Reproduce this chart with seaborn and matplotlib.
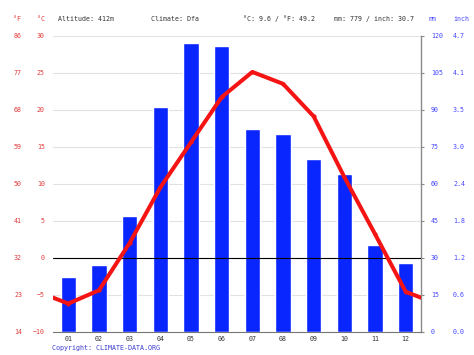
# Climate chart: monthly precipitation (bars) and mean temperature (line)
import numpy as np
import pandas as pd
import seaborn as sns
import matplotlib.pyplot as plt
import matplotlib.transforms as mtransforms

# Data
months = ["01", "02", "03", "04", "05", "06", "07", "08", "09", "10", "11", "12"]
precip_mm = [22, 27, 47, 91, 117, 116, 82, 80, 70, 64, 35, 28]
temp_c = [-6.2, -4.4, 2.0, 9.5, 15.6, 21.7, 25.1, 23.5, 19.1, 10.9, 3.2, -4.6]
temp_ticks_c = [-10, -5, 0, 5, 10, 15, 20, 25, 30]
temp_ticks_f = [14, 23, 32, 41, 50, 59, 68, 77, 86]
precip_ticks_mm = [0, 15, 30, 45, 60, 75, 90, 105, 120]
precip_ticks_inch = ["0.0", "0.6", "1.2", "1.8", "2.4", "3.0", "3.5", "4.1", "4.7"]

RED = "#e03a3a"
BLUE_TXT = "#4646ff"
FONT = "DejaVu Sans Mono"
FS = 4.8

sns.set_style("white")
plt.rcParams["font.family"] = [FONT, "DejaVu Sans"]

W, H = 474, 355
fig = plt.figure(figsize=(W / 100, H / 100), dpi=100)
ax = fig.add_axes([53 / W, 1 - 331.7 / H, (421 - 53) / W, (331.7 - 35.7) / H])

# Precipitation bars
df = pd.DataFrame({"month": months, "mm": precip_mm})
sns.barplot(data=df, x="month", y="mm", color="#0a26ff", saturation=1,
            width=0.51, ax=ax)
ax.set_ylim(0, 120)
ax.set_yticks(precip_ticks_mm)
ax.grid(axis="y", color="#e2e2e2", lw=0.8)
ax.set_axisbelow(True)
ax.set_xlabel("")
ax.set_ylabel("")

# Temperature line on twin axes (wraps Dec/Jan so the line reaches the edges)
ax_t = ax.twinx()
x_line = [-1] + list(range(12)) + [12]
t_line = [temp_c[-1]] + temp_c + [temp_c[0]]
ax_t.axhline(0, color="black", lw=0.8, zorder=1)
sns.lineplot(x=x_line, y=t_line, color="#f41414", lw=2.9, marker="o",
             markersize=3, markeredgewidth=0, ax=ax_t, zorder=3)
ax_t.set_ylim(-10, 30)
ax_t.set_xlim(-0.5, 11.5)
ax_t.set_yticks(temp_ticks_c)

# Axis placement: mm on the right, °C on the left
ax.yaxis.set_ticks_position("right")
ax_t.yaxis.set_ticks_position("left")
for s in ax_t.spines.values():
    s.set_visible(False)
for name in ["left", "top"]:
    ax.spines[name].set_visible(False)
ax.spines["right"].set_color("#8a8a8a")
ax.spines["right"].set_linewidth(1.0)
ax.spines["bottom"].set_color("#777777")
ax.spines["bottom"].set_linewidth(0.8)

ax.tick_params(axis="y", labelsize=FS, labelcolor=BLUE_TXT, length=2,
               color="#8a8a8a", pad=5)
for lbl in ax.get_yticklabels():
    lbl.set_fontfamily(FONT)
ax_t.tick_params(axis="y", labelsize=FS, labelcolor=RED, length=0, pad=5.8)
for lbl in ax_t.get_yticklabels():
    lbl.set_fontfamily(FONT)

ax.set_xticks(range(12))
ax.set_xticklabels(months, fontsize=FS, color="#333333", fontfamily=FONT)
ax.set_xticks(np.arange(-0.5, 12, 1), minor=True)
ax.tick_params(axis="x", which="major", length=0, pad=3)
ax.tick_params(axis="x", which="minor", length=2, color="#777777")
ax_t.tick_params(axis="x", length=0)

# Extra scales: °F on the far left, inch on the far right
tr_left = mtransforms.blended_transform_factory(fig.transFigure, ax_t.transData)
for c, f in zip(temp_ticks_c, temp_ticks_f):
    fig.text(22 / W, c, str(f), transform=tr_left, ha="right", va="center",
             fontsize=FS, color=RED, fontfamily=FONT)
tr_right = mtransforms.blended_transform_factory(fig.transFigure, ax.transData)
for mm, inch in zip(precip_ticks_mm, precip_ticks_inch):
    fig.text(453 / W, mm, inch, transform=tr_right, ha="left", va="center",
             fontsize=FS, color=BLUE_TXT, fontfamily=FONT)

# Header line
y_head = 1 - 19 / H
header = [
    (13, "°F", RED), (37, "°C", RED),
    (58, "Altitude: 412m", "#333333"),
    (151, "Climate: Dfa", "#333333"),
    (243, "°C: 9.6 / °F: 49.2", "#333333"),
    (334, "mm: 779 / inch: 30.7", "#333333"),
    (429, "mm", BLUE_TXT), (453, "inch", BLUE_TXT),
]
for x, txt, col in header:
    fig.text(x / W, y_head, txt, ha="left", va="center", fontsize=FS,
             color=col, fontfamily=FONT)

fig.text(52.5 / W, 1 - 348 / H, "Copyright: CLIMATE-DATA.ORG", ha="left",
         va="center", fontsize=FS, color="#3a3ad0", fontfamily=FONT)

fig.savefig("out.png", dpi=100)
